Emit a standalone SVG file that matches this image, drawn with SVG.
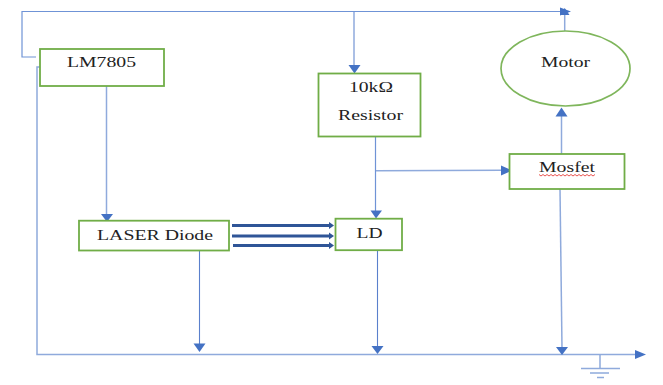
<svg xmlns="http://www.w3.org/2000/svg" width="663" height="385" viewBox="0 0 663 385">
<style>
.n{fill:#fff;stroke:#70ad47;stroke-width:1.8}
.e{fill:#fff;stroke:#7fb65c;stroke-width:1.7}
.t{font-family:"Liberation Serif","Times New Roman",serif;font-size:14.5px;fill:#222;text-anchor:middle}
.c{fill:none;stroke:#6f93d6;stroke-width:1.2}
.l{fill:none;stroke:#8faadc;stroke-width:1.5}
.d{fill:none;stroke:#5a80cc;stroke-width:1.1}
.b{fill:none;stroke:#2f5597;stroke-width:3}
.h{fill:#4472c4}
.g{fill:#2f5597}
</style>
<rect width="663" height="385" fill="#fff"/>
<g id="connectors">
<path class="c" d="M36 57H22V11.500H561"/>
<path class="l" d="M40.500 67H37V354.500H638"/>
<path class="l" d="M354 12V66"/>
<path class="l" d="M564.700 31V15"/>
<path class="l" d="M561.500 154V116"/>
<path class="c" d="M375.500 136V212"/>
<path class="l" d="M376 170.800L502 170.300"/>
<path class="l" d="M106.500 86V215"/>
<path class="d" d="M199.500 251V344"/>
<path class="d" d="M377.500 251V346"/>
<path class="l" d="M560 189L562 348"/>
<path class="b" d="M232 225.500H330"/>
<path class="b" d="M232 236H330"/>
<path class="b" d="M233 245.500H330"/>
<path class="h" d="M571 11.500L560 7.500V15.500Z"/>
<path class="h" d="M564.700 8L560 15H569.500Z"/>
<path class="h" d="M354.500 73.500L348.500 65H360.500Z"/>
<path class="h" d="M561.500 107.500L555.500 116.500H567.500Z"/>
<path class="h" d="M512 170.500L501 165.500V175.500Z"/>
<path class="h" d="M376 218.500L370.500 210.500H382Z"/>
<path class="h" d="M107 222L101 214H113Z"/>
<path class="h" d="M199.500 352L193.500 343.500H205.500Z"/>
<path class="h" d="M377.500 354L371.500 346H383.500Z"/>
<path class="h" d="M562 355L556 347H568Z"/>
<path class="h" d="M646 354.500L635 350V359Z"/>
<path class="g" d="M334 225.500L329 222V229Z"/>
<path class="g" d="M334 236L329 232.500V239.500Z"/>
<path class="g" d="M334 245.500L329 242V249Z"/>
</g>
<g id="ground">
<path class="l" d="M600 355V368M581 368.500H620M590 373H609M597 377.500H604"/>
</g>
<g id="lm7805">
<rect class="n" x="40" y="49" width="124" height="37"/>
<text class="t" x="101.500" y="67" textLength="69" lengthAdjust="spacingAndGlyphs">LM7805</text>
</g>
<g id="resistor">
<rect class="n" x="318.500" y="73.500" width="102" height="63"/>
<text class="t" x="371" y="92" textLength="44" lengthAdjust="spacingAndGlyphs">10kΩ</text>
<text class="t" x="370.500" y="120" textLength="65" lengthAdjust="spacingAndGlyphs">Resistor</text>
</g>
<g id="motor">
<ellipse class="e" cx="565.500" cy="68.500" rx="64.500" ry="37.500"/>
<text class="t" x="565.500" y="67" textLength="49" lengthAdjust="spacingAndGlyphs">Motor</text>
</g>
<g id="mosfet">
<rect class="n" x="509.500" y="154" width="115" height="35"/>
<text class="t" x="567" y="172" textLength="56" lengthAdjust="spacingAndGlyphs">Mosfet</text>
<path fill="none" stroke="#e8413c" stroke-width="0.9" d="M539 174.500l2 1.500 2-1.500 2 1.500 2-1.500 2 1.500 2-1.500 2 1.500 2-1.500 2 1.500 2-1.500 2 1.500 2-1.500 2 1.500 2-1.500 2 1.500 2-1.500 2 1.500 2-1.500 2 1.500 2-1.500 2 1.500 2-1.500 2 1.500 2-1.500 2 1.500 2-1.500 2 1.500 2-1.500"/>
</g>
<g id="laser-diode">
<rect class="n" x="79" y="220.700" width="150" height="29.800"/>
<text class="t" x="155" y="240" textLength="116" lengthAdjust="spacingAndGlyphs">LASER Diode</text>
</g>
<g id="ld">
<rect class="n" x="335.500" y="218.700" width="66.500" height="31.500"/>
<text class="t" x="369.500" y="238" textLength="26" lengthAdjust="spacingAndGlyphs">LD</text>
</g>
</svg>
